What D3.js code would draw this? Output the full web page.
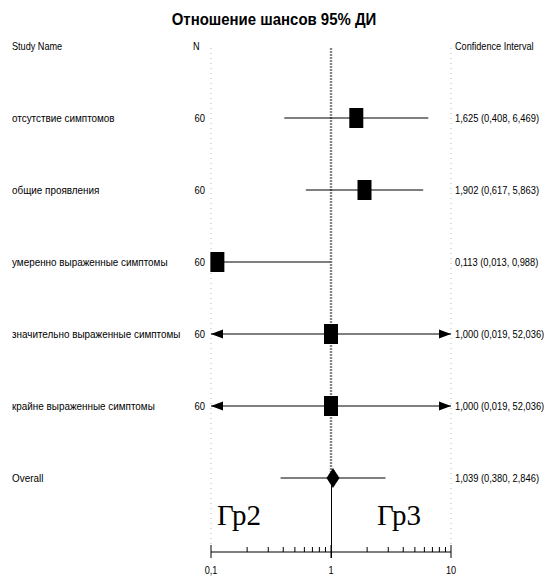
<!DOCTYPE html>
<html>
<head>
<meta charset="utf-8">
<script src="https://cdn.jsdelivr.net/npm/d3@7"></script>
<style>
  html, body { margin: 0; padding: 0; background: #fff; }
  svg text { font-family: "Liberation Sans", Arial, sans-serif; }
  svg text.serif { font-family: "Liberation Serif", "Times New Roman", serif; }
</style>
</head>
<body>
<svg id="chart" width="548" height="580"></svg>
<script>
// Study rows
const studies = [
  "отсутствие симптомов",
  "общие проявления",
  "умеренно выраженные симптомы",
  "значительно выраженные симптомы",
  "крайне выраженные симптомы"
];
const counts = [60, 60, 60, 60, 60];
const oddsRatio = [1.625, 1.902, 0.113, 1.000, 1.000];
const ciLow = [0.408, 0.617, 0.013, 0.019, 0.019];
const ciHigh = [6.469, 5.863, 0.988, 52.036, 52.036];

// Pooled estimate
const overallLabel = "Overall";
const overallOR = 1.039;
const overallLow = 0.380;
const overallHigh = 2.846;

// Axis
const axisTicks = [0.1, 1, 10];
const axisTickLabels = ["0,1", "1", "10"];
const leftGroup = "Гр2";
const rightGroup = "Гр3";

const svg = d3.select("#chart");

const x = d3.scaleLog().domain([0.1, 10]).range([211, 451]);
const rowNames = studies.concat([overallLabel]);
const y = d3.scalePoint().domain(d3.range(rowNames.length)).range([118, 478]);

const fmt = v => v.toFixed(3).replace(".", ",");
const clampX = v => x(Math.max(0.1, Math.min(10, v)));

// Condensed text: horizontally squeezed around its anchor point
function label(parent, px, py, str, opt = {}) {
  const t = parent.append("text")
    .attr("transform", `translate(${px},${py}) scale(${opt.sx ?? 0.83},1)`)
    .attr("font-size", opt.size ?? 11)
    .attr("text-anchor", opt.anchor ?? "start")
    .text(str);
  if (opt.dy) t.attr("dy", opt.dy);
  if (opt.weight) t.attr("font-weight", opt.weight);
  return t;
}

// Title
label(svg, 274, 25, "Отношение шансов 95% ДИ", { size: 17, weight: "bold", anchor: "middle", sx: 0.88 });

// Column headers
label(svg, 12, 50, "Study Name");
label(svg, 193, 50, "N");
label(svg, 455, 50, "Confidence Interval");

// Faint dotted bounds of the plot region
[0.1, 10].forEach(v => {
  svg.append("line")
    .attr("x1", x(v)).attr("x2", x(v))
    .attr("y1", 48).attr("y2", 546)
    .attr("stroke", "#b8b8b8").attr("stroke-width", 1)
    .attr("stroke-dasharray", "1,4");
});

// Line of no effect
svg.append("line")
  .attr("x1", x(1)).attr("x2", x(1))
  .attr("y1", 48).attr("y2", y(5) - 6)
  .attr("stroke", "#858585").attr("stroke-width", 2.4)
  .attr("stroke-dasharray", "2,1");
svg.append("line")
  .attr("x1", x(1) + 0.5).attr("x2", x(1) + 0.5)
  .attr("y1", y(5)).attr("y2", 558)
  .attr("stroke", "#000").attr("stroke-width", 1);

// Row labels
const labelG = svg.append("g");
rowNames.forEach((name, i) => label(labelG, 12, y(i), name, { dy: "0.35em", sx: 0.9 }));
counts.forEach((n, i) => label(labelG, 205, y(i), n, { dy: "0.35em", anchor: "end", sx: 0.86 }));
oddsRatio.forEach((v, i) => {
  label(labelG, 455, y(i), `${fmt(v)} (${fmt(ciLow[i])}, ${fmt(ciHigh[i])})`, { dy: "0.35em", sx: 0.85 });
});
label(labelG, 455, y(5), `${fmt(overallOR)} (${fmt(overallLow)}, ${fmt(overallHigh)})`, { dy: "0.35em", sx: 0.85 });

// Study intervals, arrows where the interval leaves the axis range, and squares
const marks = svg.append("g");
oddsRatio.forEach((v, i) => {
  const cy = y(i);
  const x0 = clampX(ciLow[i]);
  const x1 = clampX(ciHigh[i]);
  marks.append("line")
    .attr("x1", x0).attr("x2", x1).attr("y1", cy).attr("y2", cy)
    .attr("stroke", "#000").attr("stroke-width", 1.2);
  if (ciLow[i] < 0.1) {
    marks.append("path")
      .attr("d", `M${x0},${cy} L${x0 + 12},${cy - 4.5} L${x0 + 12},${cy + 4.5} Z`)
      .attr("fill", "#000");
  }
  if (ciHigh[i] > 10) {
    marks.append("path")
      .attr("d", `M${x1},${cy} L${x1 - 12},${cy - 4.5} L${x1 - 12},${cy + 4.5} Z`)
      .attr("fill", "#000");
  }
  const cx = x(v);
  marks.append("rect")
    .attr("x", cx - 7).attr("y", cy - 10)
    .attr("width", 14).attr("height", 20)
    .attr("fill", "#000");
});

// Overall estimate
const oy = y(5);
marks.append("line")
  .attr("x1", x(overallLow)).attr("x2", x(overallHigh))
  .attr("y1", oy).attr("y2", oy)
  .attr("stroke", "#000").attr("stroke-width", 1.2);
const ox = x(overallOR);
marks.append("path")
  .attr("d", `M${ox - 6.5},${oy} L${ox},${oy - 10} L${ox + 6.5},${oy} L${ox},${oy + 10} Z`)
  .attr("fill", "#000");

// Group captions
svg.append("text").attr("class", "serif").attr("x", 217).attr("y", 525)
  .attr("font-size", 29).text(leftGroup);
svg.append("text").attr("class", "serif").attr("x", 377).attr("y", 525)
  .attr("font-size", 29).text(rightGroup);

// Log axis
const axisY = 552;
const axisG = svg.append("g");
axisG.append("line")
  .attr("x1", x(0.1)).attr("x2", x(10))
  .attr("y1", axisY).attr("y2", axisY)
  .attr("stroke", "#000").attr("stroke-width", 1.2);
const minor = [];
[0.1, 1].forEach(d => { for (let k = 2; k <= 9; k++) minor.push(d * k); });
minor.forEach(v => {
  axisG.append("line")
    .attr("x1", x(v)).attr("x2", x(v))
    .attr("y1", axisY - 5).attr("y2", axisY)
    .attr("stroke", "#000").attr("stroke-width", 1);
});
axisTicks.forEach((v, i) => {
  axisG.append("line")
    .attr("x1", x(v)).attr("x2", x(v))
    .attr("y1", axisY - 7).attr("y2", axisY + 6)
    .attr("stroke", "#000").attr("stroke-width", 1);
  label(axisG, x(v), 574, axisTickLabels[i], { anchor: "middle" });
});
</script>
</body>
</html>
